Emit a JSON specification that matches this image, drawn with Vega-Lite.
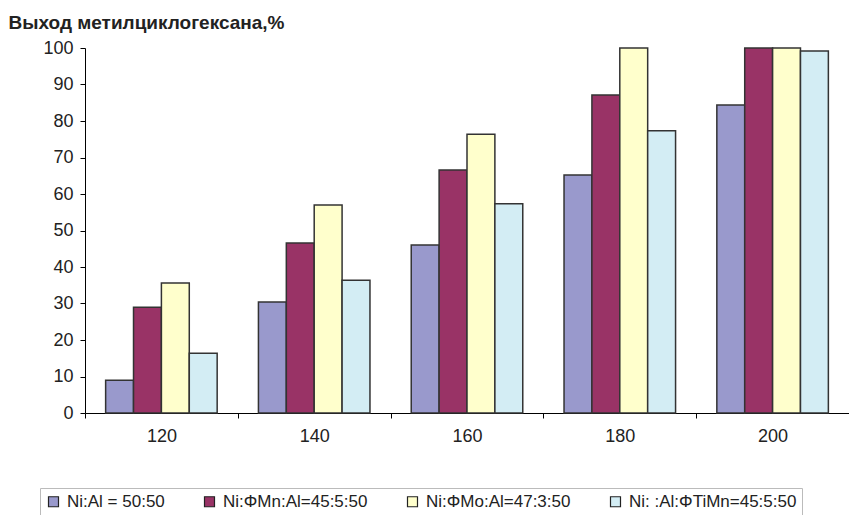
{
  "$schema": "https://vega.github.io/schema/vega-lite/v6.json",
  "width": 764,
  "height": 365,
  "autosize": {"type": "none"},
  "padding": {"left": 85, "top": 48, "right": 0, "bottom": 102},
  "background": "white",
  "config": {
    "view": {"stroke": null},
    "font": "Liberation Sans",
    "axis": {"labelFont": "Liberation Sans", "labelColor": "#222", "domainColor": "#000", "tickColor": "#000", "grid": false},
    "legend": {"labelFont": "Liberation Sans"}
  },
  "data": {
    "values": [
      {"temp": "120", "series": "Ni:Al = 50:50", "value": 9.0},
      {"temp": "120", "series": "Ni:ΦMn:Al=45:5:50", "value": 29.0},
      {"temp": "120", "series": "Ni:ΦMo:Al=47:3:50", "value": 35.6},
      {"temp": "120", "series": "Ni: :Al:ΦTiMn=45:5:50", "value": 16.4},
      {"temp": "140", "series": "Ni:Al = 50:50", "value": 30.4},
      {"temp": "140", "series": "Ni:ΦMn:Al=45:5:50", "value": 46.6},
      {"temp": "140", "series": "Ni:ΦMo:Al=47:3:50", "value": 57.0},
      {"temp": "140", "series": "Ni: :Al:ΦTiMn=45:5:50", "value": 36.4},
      {"temp": "160", "series": "Ni:Al = 50:50", "value": 46.0},
      {"temp": "160", "series": "Ni:ΦMn:Al=45:5:50", "value": 66.6},
      {"temp": "160", "series": "Ni:ΦMo:Al=47:3:50", "value": 76.4},
      {"temp": "160", "series": "Ni: :Al:ΦTiMn=45:5:50", "value": 57.3},
      {"temp": "180", "series": "Ni:Al = 50:50", "value": 65.2},
      {"temp": "180", "series": "Ni:ΦMn:Al=45:5:50", "value": 87.1},
      {"temp": "180", "series": "Ni:ΦMo:Al=47:3:50", "value": 100},
      {"temp": "180", "series": "Ni: :Al:ΦTiMn=45:5:50", "value": 77.3},
      {"temp": "200", "series": "Ni:Al = 50:50", "value": 84.4},
      {"temp": "200", "series": "Ni:ΦMn:Al=45:5:50", "value": 100},
      {"temp": "200", "series": "Ni:ΦMo:Al=47:3:50", "value": 100},
      {"temp": "200", "series": "Ni: :Al:ΦTiMn=45:5:50", "value": 99.2}
    ]
  },
  "mark": {"type": "bar", "stroke": "#333333", "strokeWidth": 1.5},
  "encoding": {
    "x": {
      "field": "temp", "type": "nominal", "sort": null,
      "scale": {"paddingInner": 0, "paddingOuter": 0},
      "axis": {"title": null, "labelAngle": 0, "tickBand": "extent", "labelFontSize": 18, "labelPadding": 9, "tickSize": 5, "domainWidth": 1}
    },
    "xOffset": {
      "field": "series", "type": "nominal",
      "sort": ["Ni:Al = 50:50", "Ni:ΦMn:Al=45:5:50", "Ni:ΦMo:Al=47:3:50", "Ni: :Al:ΦTiMn=45:5:50"],
      "scale": {"paddingInner": 0, "paddingOuter": 0.74}
    },
    "y": {
      "field": "value", "type": "quantitative",
      "scale": {"domain": [0, 100], "nice": false},
      "axis": {
        "values": [0, 10, 20, 30, 40, 50, 60, 70, 80, 90, 100],
        "labelFontSize": 18, "labelPadding": 7, "tickSize": 5,
        "title": "Выход метилциклогексана,%",
        "titleAngle": 0, "titleAlign": "left", "titleBaseline": "alphabetic",
        "titleX": -77, "titleY": -20, "titleFontSize": 19, "titleFontWeight": "bold", "titleColor": "#222", "titleFont": "Liberation Sans"
      }
    },
    "color": {
      "field": "series", "type": "nominal",
      "scale": {
        "domain": ["Ni:Al = 50:50", "Ni:ΦMn:Al=45:5:50", "Ni:ΦMo:Al=47:3:50", "Ni: :Al:ΦTiMn=45:5:50"],
        "range": ["#9999CC", "#993366", "#FFFFCC", "#D3EDF4"]
      },
      "legend": {
        "title": null, "orient": "none", "direction": "horizontal",
        "legendX": -45, "legendY": 440,
        "symbolType": "square", "symbolSize": 100, "symbolStrokeColor": "#222", "symbolStrokeWidth": 1.2,
        "labelFontSize": 17, "labelColor": "#222", "labelLimit": 300, "labelOffset": 5,
        "columnPadding": 36, "padding": 5, "strokeColor": "#bbbbbb"
      }
    }
  }
}
